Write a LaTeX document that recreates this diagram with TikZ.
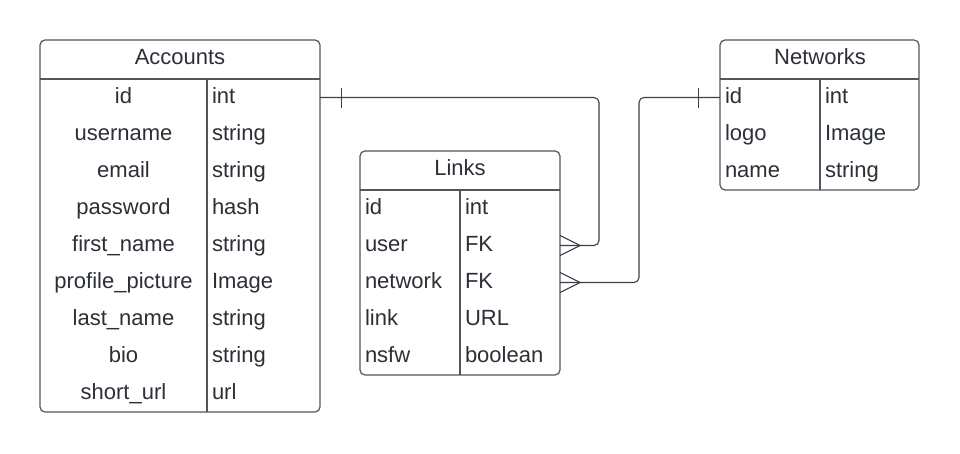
\documentclass[tikz,border=0pt]{standalone}
\usepackage{fontspec}
\setmainfont{Liberation Sans}
\usetikzlibrary{calc}
\definecolor{boxgray}{HTML}{50555E}
\definecolor{linegray}{HTML}{3A3F48}
\definecolor{txtgray}{HTML}{2B2F36}
\newcommand\erfont{\fontsize{22}{26}\selectfont}
\begin{document}
\begin{tikzpicture}[x=1pt, y=-1pt,
    tbl/.style={draw=boxgray, line width=1.2pt, rounded corners=5pt},
    rule/.style={draw=boxgray, line width=1.2pt},
    title/.style={font=\erfont, text=txtgray, inner sep=0pt, text height=15.5pt, text depth=4.5pt},
    cell/.style={font=\erfont, text=txtgray, minimum height=37pt, inner ysep=0pt, inner xsep=5pt,
        text height=15.5pt, text depth=4.5pt},
    leftcell/.style={cell, text width=#1, align=left},
    midcell/.style={cell, text width=#1, align=center},
    relation/.style={draw=linegray, line width=1.1pt}]
    \useasboundingbox (0,0) rectangle (960,453);

    % Accounts table
    \draw[tbl] (40,40) rectangle (320,412);
    \draw[rule] (40,79) -- (320,79);
    \draw[rule] (207,79) -- (207,412);
    \node[title] (acc-title) at (180,59) {Accounts};
    \foreach \n/\t [count=\i] in {id/int, username/string, email/string, password/hash,
        first\_name/string, profile\_picture/Image, last\_name/string, bio/string, short\_url/url}
    {
        \node[midcell=157pt] (acc-\i-name) at (123.5,60.5+37*\i) {\n};
        \node[leftcell=103pt] (acc-\i-type) at (263.5,60.5+37*\i) {\t};
    }

    % Links table
    \draw[tbl] (360,151) rectangle (560,375);
    \draw[rule] (360,190) -- (560,190);
    \draw[rule] (460,190) -- (460,375);
    \node[title] (lnk-title) at (460,170) {Links};
    \foreach \n/\t [count=\i] in {id/int, user/FK, network/FK, link/URL, nsfw/boolean}
    {
        \node[leftcell=90pt] (lnk-\i-name) at (410,171.5+37*\i) {\n};
        \node[leftcell=90pt] (lnk-\i-type) at (510,171.5+37*\i) {\t};
    }

    % Networks table
    \draw[tbl] (720,40) rectangle (919,190);
    \draw[rule] (720,79) -- (919,79);
    \draw[rule] (820,79) -- (820,190);
    \node[title] (net-title) at (820,59) {Networks};
    \foreach \n/\t [count=\i] in {id/int, logo/Image, name/string}
    {
        \node[leftcell=90pt] (net-\i-name) at (770,60.5+37*\i) {\n};
        \node[leftcell=89pt] (net-\i-type) at (869.5,60.5+37*\i) {\t};
    }

    % bends of the two relations
    \coordinate (bend-user) at (599,245.5);
    \coordinate (bend-net) at (639,282.5);

    % Accounts.id -> Links.user (one to many)
    \draw[relation, rounded corners=5pt] (acc-1-type.east) -| (bend-user) -- (lnk-2-type.east);
    \draw[relation] ([xshift=21pt]acc-1-type.east) ++(0,-10) -- ++(0,20);
    \draw[relation] ([xshift=20pt]lnk-2-type.east) -- ++(-20,-10)
        ([xshift=20pt]lnk-2-type.east) -- ++(-20,10);

    % Networks.id -> Links.network (one to many)
    \draw[relation, rounded corners=5pt] (net-1-name.west) -| (bend-net) -- (lnk-3-type.east);
    \draw[relation] ([xshift=-21pt]net-1-name.west) ++(0,-10) -- ++(0,20);
    \draw[relation] ([xshift=20pt]lnk-3-type.east) -- ++(-20,-10)
        ([xshift=20pt]lnk-3-type.east) -- ++(-20,10);
\end{tikzpicture}
\end{document}
